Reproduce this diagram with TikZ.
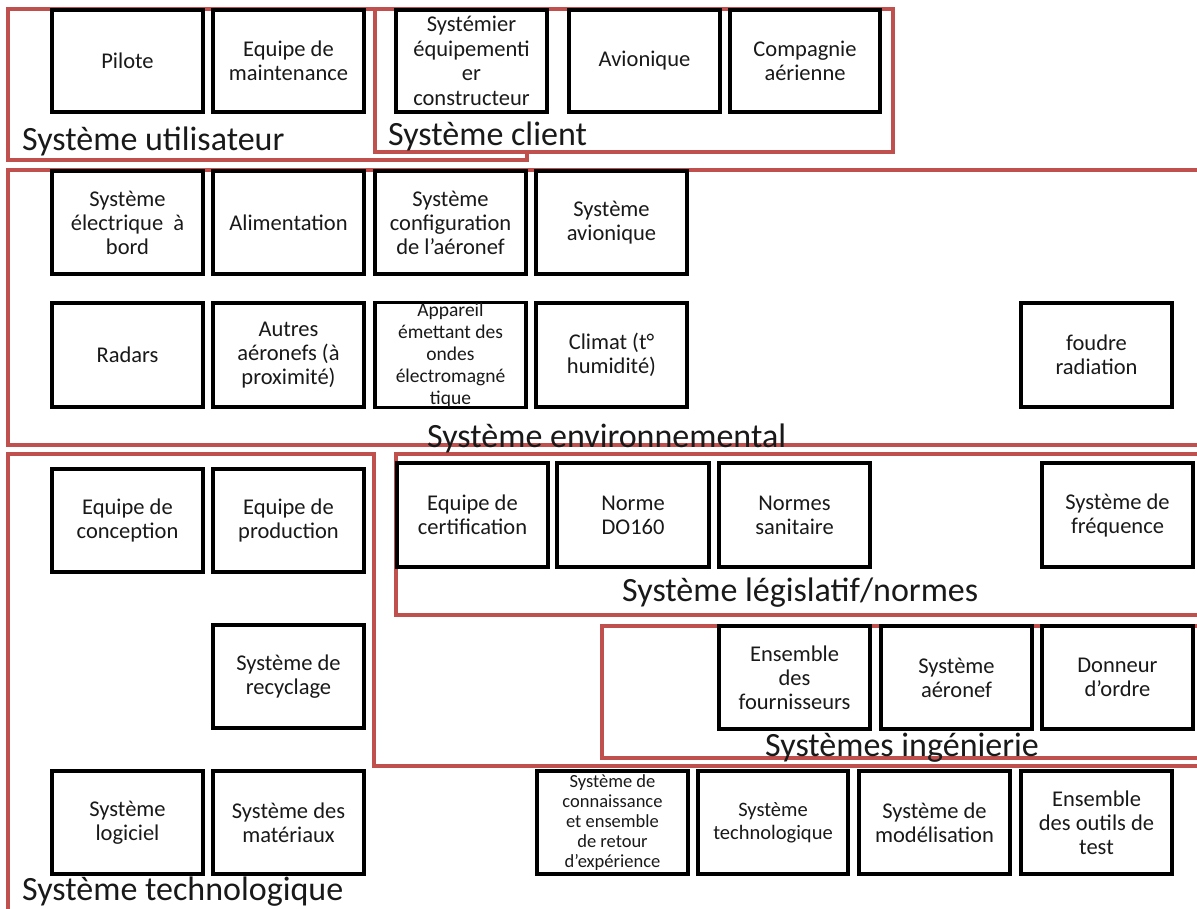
\documentclass[tikz,border=0pt]{standalone}
\usepackage{fontspec}
\setmainfont{Carlito}
\definecolor{grpred}{RGB}{192,80,77}
\definecolor{ink}{RGB}{25,25,25}
\begin{document}
\begin{tikzpicture}[x=1pt,y=-1pt,
  box/.style={draw=black, line width=3.6pt, fill=white, inner sep=0pt, align=center, text=ink,
    minimum width=151pt, minimum height=103pt, font=\fontsize{22.5}{24}\selectfont},
  toprow/.style={box, minimum height=102pt, font=\fontsize{22.5}{24.5}\selectfont},
  grp/.style={draw=grpred, line width=3.2pt, fill=white},
  grplabel/.style={anchor=base west, inner sep=0pt, text=ink, font=\fontsize{34}{40}\selectfont}]
\useasboundingbox (0,0) rectangle (1197,908);
\fill[white] (0,0) rectangle (1197,908);
\clip (0,0) rectangle (1197,908);

% group regions
\draw[grp] (8,170) rectangle (1210,445);
\draw[grp] (8,9) rectangle (527,160);
\draw[grp] (375,9) rectangle (893,152);
\draw[grp] (8,454) -- (374,454) -- (374,766) -- (1210,766) -- (1210,930) -- (8,930) -- cycle;
\draw[grp] (396,454) rectangle (1210,615);
\draw[grp] (602,626) rectangle (1210,758);

% group titles
\node[grplabel] (tUtil) at (22,150) {Système utilisateur};
\node[grplabel] (tClient) at (388,145) {Système client};
\node[grplabel] (tEnv) at (427,447) {Système environnemental};
\node[grplabel] (tLeg) at (622,601) {Système législatif/normes};
\node[grplabel] (tIng) at (765,756) {Systèmes ingénierie};
\node[grplabel] (tTech) at (22,900) {Système technologique};

% users and clients
\node[toprow] (pil) at (127.5,61) {Pilote};
\node[toprow] (maint) at (288.5,61) {Equipe de\\maintenance};
\node[toprow] (sysq) at (471.5,61) {Systémier\\équipementi\\er\\constructeur};
\node[toprow] (avio) at (644.5,61) {Avionique};
\node[toprow, minimum width=150pt] (comp) at (805,61) {Compagnie\\aérienne};

% environment
\node[box] (elec) at (127.5,222.5) {Système\\électrique~~à\\bord};
\node[box] (alim) at (288.5,222.5) {Alimentation};
\node[box] (conf) at (450.5,222.5) {Système\\configuration\\de l’aéronef};
\node[box] (savi) at (611.5,222.5) {Système\\avionique};
\node[box, minimum height=104pt] (rad) at (127.5,355) {Radars};
\node[box, minimum height=104pt] (autr) at (288.5,355) {Autres\\aéronefs (à\\proximité)};
\node[box, minimum height=104pt, font=\fontsize{19.5}{22}\selectfont] (app) at (450.5,355) {Appareil\\émettant des\\ondes\\électromagné\\tique};
\node[box, minimum height=104pt] (clim) at (611.5,355) {Climat (t°\\humidité)};
\node[box, minimum height=104pt] (foud) at (1096.5,355) {foudre\\radiation};

% technology, legislation
\node[box] (conc) at (127.5,520.5) {Equipe de\\conception};
\node[box] (prod) at (288.5,520.5) {Equipe de\\production};
\node[box, minimum height=104pt] (cert) at (472.5,515) {Equipe de\\certification};
\node[box, minimum height=104pt, minimum width=152pt] (dosz) at (633,515) {Norme\\DO160};
\node[box, minimum height=104pt] (sani) at (794.5,515) {Normes\\sanitaire};
\node[box, minimum height=104pt] (freq) at (1117.5,515) {Système de\\fréquence};

% recycling, engineering
\node[box] (recy) at (288.5,676.5) {Système de\\recyclage};
\node[box] (four) at (794.5,677.5) {Ensemble\\des\\fournisseurs};
\node[box] (aer) at (956.5,677.5) {Système\\aéronef};
\node[box] (donn) at (1117.5,677.5) {Donneur\\d’ordre};

% bottom row
\node[box] (logi) at (127.5,822.5) {Système\\logiciel};
\node[box] (mat) at (288.5,822.5) {Système des\\matériaux};
\node[box, font=\fontsize{18.5}{20}\selectfont] (conn) at (612.5,822.5) {Système de\\connaissance\\et ensemble\\de retour\\d’expérience};
\node[box, minimum width=150pt, font=\fontsize{20.5}{23}\selectfont] (stech) at (773,822.5) {Système\\technologique};
\node[box] (mod) at (934.5,822.5) {Système de\\modélisation};
\node[box] (outil) at (1096.5,822.5) {Ensemble\\des outils de\\test};
\end{tikzpicture}
\end{document}
